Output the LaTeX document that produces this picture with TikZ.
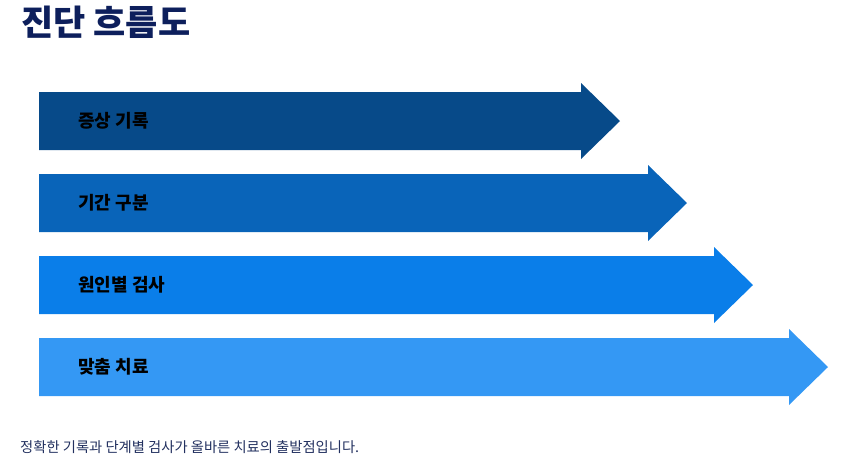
\documentclass[tikz,border=0pt]{standalone}
\usepackage{fontspec}
\usepackage{xcolor}
\usepackage{tikz}
\usetikzlibrary{positioning}
\setmainfont{Noto Sans CJK KR}

\definecolor{titleblue}{HTML}{0D1F5C}
\definecolor{noteblue}{HTML}{22305F}
\definecolor{stepA}{HTML}{074A89}
\definecolor{stepB}{HTML}{0964B9}
\definecolor{stepC}{HTML}{0A7EE9}
\definecolor{stepD}{HTML}{3498F4}

\begin{document}
\begin{tikzpicture}[
    x=1pt, y=-1pt,
    heading/.style={inner sep=0pt, anchor=base west, text=titleblue, font=\fontsize{35}{40}\selectfont\bfseries},
    steplabel/.style={inner sep=0pt, anchor=base west, text=black, font=\fontsize{18}{21}\selectfont\bfseries},
    note/.style={inner sep=0pt, anchor=base west, text=noteblue, font=\fontsize{14.3}{17}\selectfont}
]
\useasboundingbox (0,0) rectangle (847,459);

% Title
\node[heading] (title) at (21,35) {진단 흐름도};

% Arrows
\foreach \i/\yc/\xb/\col/\txt in {1/121/581/stepA/증상 기록, 2/203/648/stepB/기간 구분, 3/285/714/stepC/원인별 검사, 4/367/789/stepD/맞춤 치료}{
  \fill[\col] (39,\yc-29) -- (\xb,\yc-29) -- (\xb,\yc-38) -- (\xb+39,\yc)
    -- (\xb,\yc+38) -- (\xb,\yc+29) -- (39,\yc+29) -- cycle;
  \node[steplabel] (step\i) at (78,\yc+6) {\txt};
}

% Footer
\node[note] (note) at (20,452) {정확한 기록과 단계별 검사가 올바른 치료의 출발점입니다.};

\end{tikzpicture}
\end{document}
